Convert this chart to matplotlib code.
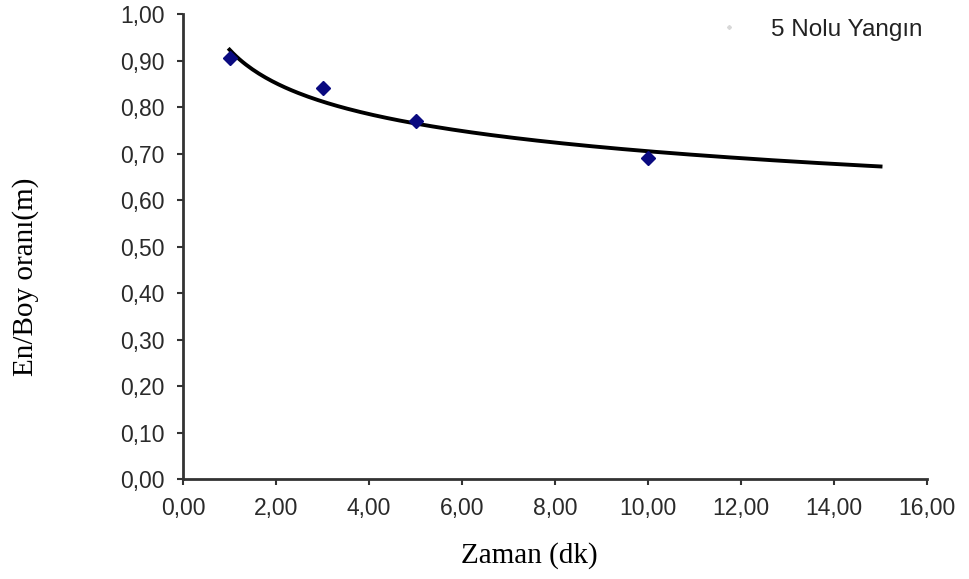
import matplotlib.pyplot as plt
import numpy as np
from matplotlib.lines import Line2D
from matplotlib.ticker import FuncFormatter

# ölçülen değerler
zaman = np.array([1.0, 3.0, 5.0, 10.0])
oran = np.array([0.905, 0.84, 0.77, 0.69])
seri_adi = '5 Nolu Yangın'

x_ticks = np.arange(0, 17, 2)
y_ticks = np.arange(0, 1.01, 0.1)

# üssel (power) eğilim çizgisi, log-log doğrusal uydurma
b, ln_a = np.polyfit(np.log(zaman), np.log(oran), 1)
xt = np.linspace(1, 15, 200)
yt = np.exp(ln_a) * xt ** b

fig = plt.figure(figsize=(9.7, 5.79), dpi=100)
ax = fig.add_axes([0.1887, 0.1727, 0.767, 0.8031])

ax.plot(xt, yt, color='black', lw=2.8, zorder=2)
ax.plot(zaman, oran, ls='none', marker='D', ms=7, color='#0a0a80', zorder=3)

ax.set_xlim(0, 16)
ax.set_ylim(0, 1.0)
ax.set_xticks(x_ticks)
ax.set_yticks(y_ticks)

virgul = FuncFormatter(lambda v, p: f'{v:.2f}'.replace('.', ','))
ax.xaxis.set_major_formatter(virgul)
ax.yaxis.set_major_formatter(virgul)

for s in ['top', 'right']:
    ax.spines[s].set_visible(False)
for s in ['left', 'bottom']:
    ax.spines[s].set_color('#333333')
    ax.spines[s].set_linewidth(2)

ax.tick_params(axis='both', direction='out', length=4, width=1.5, color='#333333',
               labelsize=16.5, labelcolor='#2a2a2a', pad=9)
for lab in ax.get_xticklabels() + ax.get_yticklabels():
    lab.set_family('Liberation Sans')

handle = Line2D([], [], ls='none', marker='D', ms=2, color='#d8d8d8')
leg = ax.legend([handle], [seri_adi], loc='upper right', frameon=False,
                bbox_to_anchor=(1.023, 1.037), handletextpad=0.7,
                prop={'family': 'Liberation Sans', 'size': 17.5})
for t in leg.get_texts():
    t.set_color('#222222')

fig.text(0.546, 0.041, 'Zaman (dk)', ha='center', va='center',
         family='Liberation Serif', fontsize=21)
fig.text(0.026, 0.522, 'En/Boy oranı(m)', ha='center', va='center', rotation=90,
         family='Liberation Serif', fontsize=21)

fig.savefig('out.png', dpi=100)
